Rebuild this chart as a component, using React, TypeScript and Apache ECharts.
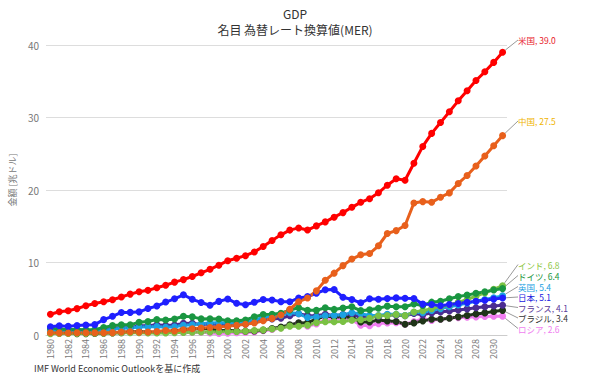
import React, { useEffect, useRef } from "react";
import * as echarts from "echarts";

const years: string[] = [
  "1980","1981","1982","1983","1984","1985","1986","1987","1988","1989",
  "1990","1991","1992","1993","1994","1995","1996","1997","1998","1999",
  "2000","2001","2002","2003","2004","2005","2006","2007","2008","2009",
  "2010","2011","2012","2013","2014","2015","2016","2017","2018","2019",
  "2020","2021","2022","2023","2024","2025","2026","2027","2028","2029",
  "2030","2031",
];

const usa = [
  2.86, 3.21, 3.34, 3.64, 4.04, 4.34, 4.58, 4.86, 5.24, 5.64,
  5.96, 6.16, 6.52, 6.86, 7.29, 7.64, 8.07, 8.58, 9.06, 9.63,
  10.25, 10.58, 10.94, 11.46, 12.21, 13.04, 13.82, 14.47, 14.77, 14.48,
  15.05, 15.6, 16.25, 16.88, 17.61, 18.3, 18.8, 19.61, 20.66, 21.54,
  21.35, 23.68, 26.01, 27.81, 29.3, 30.8, 32.3, 33.7, 35.1, 36.3,
  37.6, 39.0,
];
const china = [
  0.3, 0.29, 0.28, 0.3, 0.31, 0.31, 0.3, 0.33, 0.41, 0.46,
  0.4, 0.41, 0.49, 0.62, 0.56, 0.73, 0.86, 0.96, 1.03, 1.09,
  1.21, 1.34, 1.47, 1.66, 1.96, 2.29, 2.75, 3.55, 4.59, 5.1,
  6.09, 7.55, 8.53, 9.57, 10.48, 11.06, 11.23, 12.31, 14.0, 14.4,
  15.1, 18.2, 18.4, 18.3, 19.0, 19.6, 20.9, 22.0, 23.3, 24.7,
  26.1, 27.5,
];
const japan = [
  1.13, 1.27, 1.19, 1.3, 1.38, 1.43, 2.12, 2.58, 3.11, 3.12,
  3.19, 3.65, 3.99, 4.54, 4.99, 5.55, 4.92, 4.49, 4.1, 4.64,
  4.97, 4.37, 4.18, 4.52, 4.89, 4.83, 4.6, 4.58, 5.11, 5.29,
  5.76, 6.23, 6.27, 5.21, 4.9, 4.44, 5.0, 4.93, 5.04, 5.12,
  5.06, 5.04, 4.26, 4.21, 4.03, 4.2, 4.35, 4.5, 4.65, 4.8,
  4.95, 5.1,
];
const germany = [
  0.95, 0.8, 0.78, 0.77, 0.72, 0.73, 1.03, 1.29, 1.4, 1.4,
  1.77, 1.87, 2.13, 2.07, 2.21, 2.59, 2.5, 2.22, 2.24, 2.2,
  1.95, 1.95, 2.08, 2.5, 2.82, 2.85, 3.0, 3.44, 3.75, 3.42,
  3.4, 3.75, 3.53, 3.73, 3.89, 3.36, 3.47, 3.69, 3.98, 3.89,
  3.89, 4.28, 4.08, 4.53, 4.66, 5.0, 5.3, 5.5, 5.75, 5.95,
  6.2, 6.4,
];
const india = [
  0.19, 0.2, 0.21, 0.22, 0.22, 0.24, 0.26, 0.28, 0.3, 0.3,
  0.32, 0.27, 0.29, 0.28, 0.33, 0.36, 0.39, 0.42, 0.42, 0.46,
  0.47, 0.49, 0.51, 0.61, 0.71, 0.82, 0.94, 1.22, 1.2, 1.34,
  1.68, 1.82, 1.83, 1.86, 2.04, 2.1, 2.29, 2.65, 2.7, 2.84,
  2.67, 3.17, 3.35, 3.64, 3.91, 4.13, 4.5, 4.9, 5.35, 5.8,
  6.3, 6.8,
];
const uk = [
  0.6, 0.57, 0.54, 0.52, 0.49, 0.52, 0.63, 0.78, 0.95, 0.96,
  1.1, 1.14, 1.18, 1.07, 1.15, 1.34, 1.42, 1.56, 1.65, 1.69,
  1.67, 1.65, 1.79, 2.06, 2.42, 2.54, 2.71, 3.09, 2.93, 2.41,
  2.49, 2.66, 2.71, 2.79, 3.07, 2.93, 2.69, 2.68, 2.87, 2.85,
  2.7, 3.14, 3.09, 3.37, 3.64, 3.9, 4.15, 4.4, 4.65, 4.9,
  5.15, 5.4,
];
const france = [
  0.7, 0.62, 0.59, 0.56, 0.53, 0.55, 0.77, 0.92, 1.01, 1.01,
  1.27, 1.28, 1.4, 1.32, 1.39, 1.6, 1.61, 1.46, 1.51, 1.49,
  1.36, 1.38, 1.5, 1.84, 2.12, 2.2, 2.32, 2.66, 2.93, 2.7,
  2.65, 2.87, 2.68, 2.81, 2.86, 2.44, 2.47, 2.59, 2.79, 2.73,
  2.65, 2.96, 2.78, 3.05, 3.16, 3.3, 3.45, 3.6, 3.75, 3.9,
  4.0, 4.1,
];
const brazil = [
  0.24, 0.26, 0.28, 0.19, 0.19, 0.22, 0.26, 0.29, 0.33, 0.45,
  0.46, 0.4, 0.39, 0.43, 0.56, 0.77, 0.85, 0.88, 0.86, 0.6,
  0.66, 0.56, 0.51, 0.56, 0.67, 0.89, 1.11, 1.4, 1.7, 1.67,
  2.21, 2.62, 2.47, 2.47, 2.46, 1.8, 1.8, 2.06, 1.92, 1.87,
  1.48, 1.67, 1.95, 2.17, 2.17, 2.3, 2.5, 2.7, 2.9, 3.05,
  3.25, 3.4,
];
const russia: (number | null)[] = [
  null, null, null, null, null, null, null, null, null, null,
  null, null, 0.46, 0.44, 0.4, 0.34, 0.39, 0.4, 0.27, 0.2,
  0.26, 0.31, 0.35, 0.43, 0.59, 0.76, 0.99, 1.3, 1.66, 1.22,
  1.52, 2.05, 2.21, 2.29, 2.06, 1.36, 1.28, 1.57, 1.66, 1.69,
  1.49, 1.84, 2.27, 2.02, 2.17, 2.35, 2.4, 2.45, 2.5, 2.55,
  2.58, 2.6,
];

const FONT = '"Noto Sans CJK JP", "Noto Sans", sans-serif';

function makeSeries(
  name: string,
  data: (number | null)[],
  color: string,
  labelColor: string,
  labelY: number
) {
  const last = data.length - 1;
  return {
    type: "line",
    name,
    data: data.map((v, i) =>
      i === last ? { value: v, label: { show: true } } : v
    ),
    symbol: "circle",
    symbolSize: 7,
    showAllSymbol: true,
    connectNulls: false,
    lineStyle: { width: 3, color },
    itemStyle: { color },
    label: {
      show: false,
      formatter: (p: any) => `${name}, ${Number(p.value).toFixed(1)}`,
      color: labelColor,
      fontSize: 8.5,
      lineHeight: 9,
      fontFamily: FONT,
    },
    labelLine: { show: true, lineStyle: { color: "#999", width: 1 } },
    labelLayout: { x: 518, y: labelY, align: "left", verticalAlign: "middle" },
    emphasis: { disabled: true },
  };
}

export default function App() {
  const ref = useRef<HTMLDivElement>(null);
  useEffect(() => {
    if (!ref.current) return;
    const chart = echarts.init(ref.current, null, { renderer: "svg" });
    chart.setOption({
      animation: false,
      backgroundColor: "#fff",
      textStyle: { fontFamily: FONT },
      title: {
        text: "GDP",
        subtext: "名目 為替レート換算値(MER)",
        left: "center",
        top: 2,
        itemGap: 4,
        textStyle: { fontSize: 12, fontWeight: "normal", color: "#333", fontFamily: FONT },
        subtextStyle: { fontSize: 12, color: "#333", fontFamily: FONT },
      },
      grid: { left: 40, right: 83, top: 45, bottom: 49 },
      xAxis: {
        type: "category",
        data: years,
        boundaryGap: true,
        axisTick: { show: false },
        axisLine: { lineStyle: { color: "#ccc" } },
        axisLabel: { rotate: 90, interval: 1, fontSize: 9, color: "#777", margin: 4 },
      },
      yAxis: {
        type: "value",
        min: 0,
        max: 40,
        interval: 10,
        name: "金額 [兆ドル]",
        nameLocation: "middle",
        nameGap: 27,
        nameTextStyle: { fontSize: 9, color: "#777", padding: [0, 0, 0, 20] },
        axisLabel: { fontSize: 10, color: "#777", margin: 7 },
        splitLine: { lineStyle: { color: "#ddd" } },
      },
      graphic: [
        {
          type: "text",
          left: 34,
          top: 364,
          style: {
            text: "IMF World Economic Outlookを基に作成",
            fontSize: 9,
            fill: "#333",
            fontFamily: FONT,
          },
        },
      ],
      series: [
        makeSeries("ロシア", russia, "#f07ef0", "#f07ef0", 328.5),
        makeSeries("ブラジル", brazil, "#1f3418", "#333333", 318),
        makeSeries("フランス", france, "#4b2c91", "#5a3a9a", 307.5),
        makeSeries("英国", uk, "#1ba1e2", "#1ba1e2", 286.5),
        makeSeries("インド", india, "#7ac143", "#8cc63f", 264.5),
        makeSeries("ドイツ", germany, "#1a9641", "#1a9641", 275.5),
        makeSeries("日本", japan, "#1f1fff", "#2020e0", 297),
        makeSeries("中国", china, "#e8601c", "#f0b400", 121),
        makeSeries("米国", usa, "#ff0000", "#e8202a", 40),
      ],
    });
    return () => chart.dispose();
  }, []);
  return (
    <div
      ref={ref}
      style={{ position: "fixed", left: 0, top: 0, width: 590, height: 384, background: "#fff" }}
    />
  );
}
